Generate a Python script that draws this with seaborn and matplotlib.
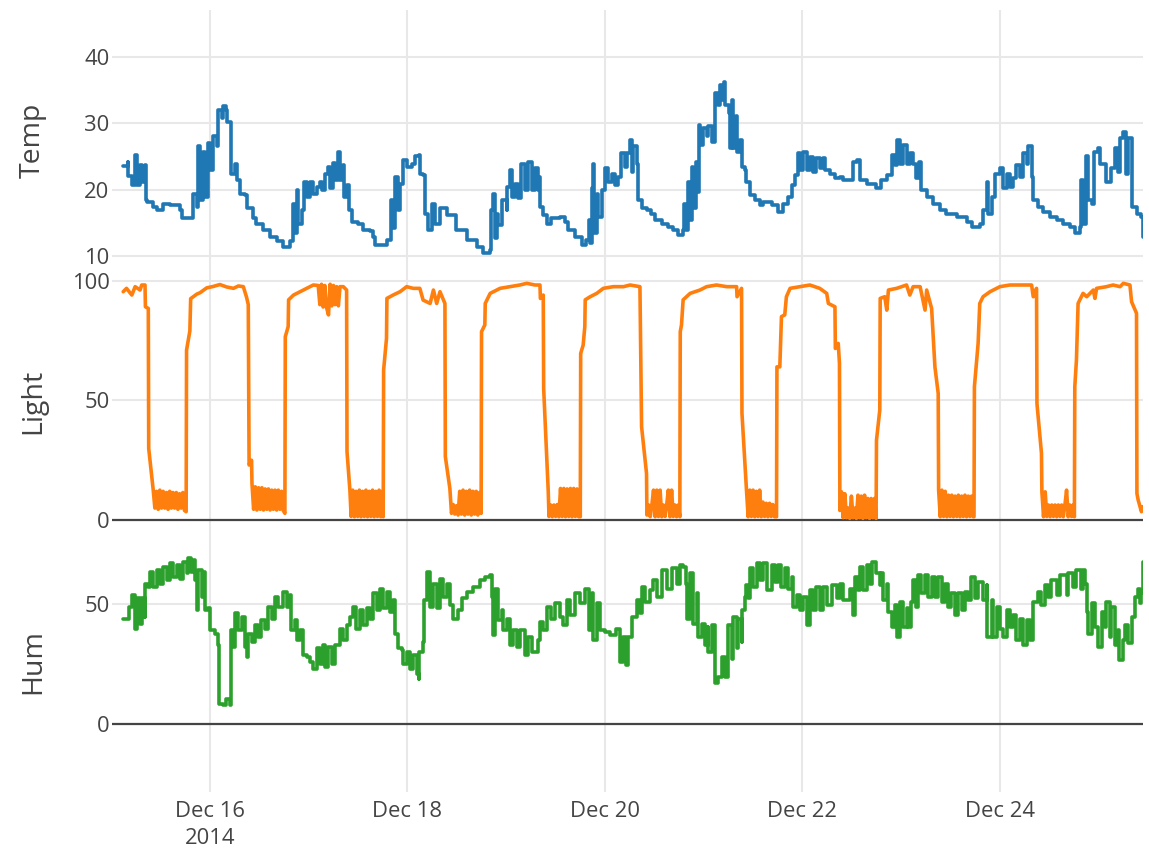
import pandas as pd
import seaborn as sns
import matplotlib.pyplot as plt
import matplotlib.dates as mdates
from matplotlib.ticker import FuncFormatter

# sensor readings, hours counted from 2014-12-15 00:00
start = pd.Timestamp('2014-12-15')

temp_hours = [
    2.9, 4.0, 4.0, 5.0, 5.8, 6.2, 7.0, 7.4, 8.2, 8.4,
    8.6, 10.2, 11.0, 12.6, 14.3, 16.7, 17.1, 19.1, 19.9, 20.8,
    21.2, 21.6, 22.4, 22.8, 23.6, 24.0, 24.8, 25.6, 26.0, 26.8,
    27.2, 28.0, 28.2, 29.1, 29.2, 30.1, 30.5, 31.3, 32.5, 32.9,
    34.5, 35.3, 36.9, 38.6, 40.2, 41.8, 43.4, 44.1, 44.6, 45.1,
    45.5, 46.3, 46.8, 47.5, 48.3, 49.1, 49.9, 50.7, 51.1, 51.9,
    52.7, 53.2, 54.0, 54.4, 55.0, 55.6, 56.4, 56.6, 57.2, 57.9,
    58.4, 60.0, 61.3, 62.9, 63.7, 64.1, 66.9, 67.7, 67.9, 68.5,
    69.0, 69.8, 70.2, 71.0, 71.8, 73.0, 73.8, 74.9, 75.0, 75.8,
    76.2, 77.1, 77.9, 78.7, 79.9, 81.5, 83.1, 83.9, 86.4, 88.8,
    90.4, 92.0, 92.2, 92.9, 93.3, 93.7, 94.1, 94.9, 96.1, 96.3,
    96.9, 97.3, 98.1, 98.9, 99.7, 100.6, 101.4, 102.2, 103.0, 103.8,
    104.0, 104.2, 105.0, 105.8, 107.0, 109.1, 110.3, 111.1, 112.7, 114.3,
    115.5, 116.0, 116.4, 116.8, 117.2, 117.3, 118.0, 118.4, 119.2, 120.0,
    120.8, 121.6, 122.4, 123.2, 124.0, 124.9, 125.3, 126.1, 126.5, 126.9,
    127.7, 128.1, 128.9, 130.1, 131.3, 132.2, 133.8, 135.4, 136.6, 137.8,
    139.0, 139.2, 139.8, 140.3, 140.7, 141.1, 141.5, 142.1, 142.4, 142.9,
    143.2, 143.9, 144.7, 145.1, 145.9, 146.7, 147.5, 148.0, 148.4, 149.0,
    149.2, 150.2, 150.3, 150.8, 151.2, 151.8, 152.2, 152.8, 153.2, 154.0,
    154.4, 155.2, 156.4, 157.7, 158.5, 160.5, 162.1, 163.3, 164.5, 165.4,
    166.2, 167.0, 167.4, 168.2, 169.0, 169.8, 170.6, 171.4, 172.2, 173.1,
    173.5, 174.7, 175.9, 177.1, 177.9, 180.4, 181.2, 182.0, 183.6, 186.0,
    187.2, 188.5, 189.7, 190.5, 191.0, 191.7, 192.5, 193.3, 194.1, 194.9,
    195.7, 196.4, 196.9, 198.2, 199.8, 201.4, 203.0, 205.5, 207.9, 209.1,
    211.1, 211.9, 212.8, 213.2, 214.0, 214.8, 216.0, 216.8, 217.6, 218.4,
    219.2, 220.0, 220.9, 221.7, 222.5, 222.9, 223.7, 224.1, 225.3, 226.5,
    228.1, 229.8, 231.4, 233.0, 234.2, 235.4, 235.8, 236.2, 236.9, 237.5,
    238.3, 238.8, 239.9, 240.3, 241.1, 241.9, 243.1, 243.9, 244.7, 245.2,
    246.0, 246.6, 247.2, 248.0, 248.2, 249.2, 250.2, 250.7,
]
temp_values = [
    23.6, 24.2, 22.0, 20.7, 25.2, 20.7, 23.7, 21.2, 23.7, 18.4,
    18.2, 17.4, 16.9, 17.8, 17.7, 16.9, 15.7, 15.7, 19.4, 17.4,
    26.5, 18.4, 25.7, 18.9, 27.0, 22.9, 28.0, 26.5, 32.0, 30.7,
    32.5, 32.0, 30.2, 30.0, 22.4, 23.9, 21.4, 19.4, 19.2, 17.2,
    15.7, 14.9, 13.9, 12.9, 12.2, 11.4, 12.2, 17.9, 13.4, 19.9,
    14.9, 16.9, 21.2, 18.9, 21.2, 19.4, 20.4, 21.2, 19.9, 22.4,
    23.4, 20.2, 24.0, 21.4, 25.7, 21.4, 23.7, 18.9, 20.7, 16.9,
    15.2, 14.9, 13.9, 13.7, 12.9, 11.7, 12.4, 12.4, 18.4, 14.2,
    21.9, 16.9, 20.9, 24.5, 23.4, 23.9, 25.0, 25.2, 22.4, 22.2,
    16.4, 13.9, 17.9, 14.9, 17.2, 16.2, 16.2, 13.9, 12.4, 11.4,
    10.4, 10.9, 16.9, 19.4, 12.7, 16.4, 14.7, 18.4, 16.9, 20.4,
    22.9, 18.9, 20.9, 18.7, 23.9, 19.9, 24.2, 19.9, 23.2, 19.9,
    21.9, 17.4, 16.2, 14.9, 15.7, 15.9, 15.2, 13.9, 12.9, 11.7,
    12.4, 15.4, 11.9, 20.2, 23.9, 13.4, 19.4, 15.9, 19.9, 23.2,
    21.2, 22.4, 20.7, 21.9, 25.5, 23.4, 25.5, 27.5, 22.7, 26.5,
    23.9, 18.4, 17.2, 16.9, 16.4, 15.4, 14.9, 14.4, 13.9, 13.2,
    13.9, 17.9, 13.9, 21.2, 15.4, 23.4, 17.2, 24.2, 19.7, 29.7,
    26.7, 29.2, 28.0, 29.5, 27.2, 34.5, 32.7, 35.7, 33.5, 36.2,
    32.7, 31.5, 26.2, 33.5, 26.2, 31.0, 25.7, 27.5, 23.4, 22.9,
    21.2, 19.2, 18.4, 17.7, 18.2, 17.7, 16.7, 17.9, 18.9, 20.7,
    22.2, 25.5, 22.9, 25.7, 22.9, 24.9, 22.7, 24.7, 23.2, 24.7,
    22.9, 22.4, 21.7, 21.9, 21.4, 24.2, 24.5, 21.4, 20.9, 20.2,
    21.4, 22.2, 25.2, 23.7, 27.5, 23.9, 26.7, 23.9, 25.5, 23.9,
    21.7, 24.2, 19.9, 18.9, 17.9, 16.9, 16.4, 15.9, 15.2, 14.4,
    14.9, 16.9, 21.2, 16.4, 18.9, 22.4, 23.2, 20.2, 22.4, 20.4,
    21.7, 23.7, 21.9, 25.5, 23.9, 26.5, 21.9, 18.4, 17.4, 16.7,
    15.9, 15.4, 14.9, 14.4, 13.4, 14.4, 21.4, 14.9, 25.0, 18.4,
    17.9, 25.7, 26.2, 23.9, 23.9, 21.2, 23.2, 26.2, 22.7, 27.7,
    28.7, 22.4, 27.7, 23.7, 17.4, 16.4, 15.9, 12.9,
]

light_hours = [
    2.9, 3.7, 5.0, 5.8, 7.0, 7.4, 8.2, 8.3, 9.0, 9.1,
    10.2, 10.6, 11.0, 11.4, 11.8, 12.2, 12.6, 13.0, 13.4, 13.8,
    14.2, 14.6, 15.0, 15.4, 15.8, 16.2, 16.6, 17.0, 17.4, 17.8,
    18.2, 18.3, 19.1, 19.3, 20.8, 21.6, 22.4, 23.2, 24.8, 26.4,
    28.0, 29.7, 30.9, 32.1, 32.9, 33.3, 33.5, 34.1, 34.2, 34.6,
    35.0, 35.4, 35.8, 36.2, 36.6, 37.0, 37.4, 37.8, 38.2, 38.6,
    39.0, 39.4, 39.8, 40.2, 40.6, 41.0, 41.4, 41.8, 42.2, 42.3,
    43.0, 43.1, 44.3, 45.9, 47.5, 49.1, 50.3, 50.7, 51.1, 51.5,
    51.9, 52.3, 52.8, 53.2, 53.6, 54.0, 54.4, 54.8, 55.2, 55.6,
    56.4, 57.2, 57.3, 58.0, 58.3, 58.7, 59.1, 59.5, 59.9, 60.3,
    60.7, 61.1, 61.5, 61.9, 62.3, 62.7, 63.1, 63.5, 63.9, 64.3,
    64.7, 65.1, 65.5, 65.9, 66.1, 66.2, 66.9, 67.0, 68.5, 70.2,
    71.8, 73.4, 75.0, 75.8, 77.5, 78.3, 79.1, 79.9, 81.1, 81.2,
    82.3, 82.7, 83.1, 83.5, 83.9, 84.3, 84.7, 85.1, 85.5, 85.9,
    86.3, 86.7, 87.1, 87.5, 87.9, 88.3, 88.7, 89.1, 89.5, 89.9,
    90.0, 90.8, 90.9, 92.1, 92.9, 94.5, 96.9, 99.3, 101.0, 103.0,
    104.2, 104.3, 105.0, 105.1, 105.8, 106.2, 106.4, 106.8, 107.2, 107.6,
    108.0, 108.4, 108.8, 109.2, 109.6, 110.0, 110.4, 110.8, 111.2, 111.6,
    112.0, 112.4, 112.8, 113.2, 113.6, 114.0, 114.1, 114.7, 115.1, 115.2,
    116.4, 118.0, 119.6, 122.0, 124.5, 126.1, 128.5, 128.9, 130.1, 130.2,
    130.6, 131.0, 131.4, 131.8, 132.2, 132.6, 133.0, 133.4, 133.8, 134.2,
    134.6, 135.0, 135.4, 135.8, 136.2, 136.6, 137.0, 137.4, 137.8, 138.2,
    138.3, 138.6, 139.0, 140.7, 143.1, 144.7, 147.1, 149.6, 152.0, 152.1,
    153.2, 153.3, 154.0, 154.4, 154.8, 155.2, 155.6, 156.0, 156.4, 156.8,
    157.2, 157.6, 158.0, 158.4, 158.8, 159.2, 159.6, 160.0, 160.4, 160.8,
    161.2, 161.7, 161.8, 162.5, 162.9, 163.7, 164.1, 165.0, 167.4, 169.8,
    172.2, 173.9, 174.3, 175.9, 176.0, 176.7, 177.0, 177.1, 177.5, 177.9,
    178.3, 178.7, 179.1, 179.5, 179.9, 180.3, 180.7, 181.1, 181.5, 181.9,
    182.3, 182.7, 183.1, 183.5, 183.9, 184.3, 184.7, 185.1, 185.5, 185.9,
    186.0, 186.8, 186.9, 188.0, 188.5, 188.9, 190.9, 193.3, 194.1, 194.9,
    196.6, 197.8, 198.2, 199.4, 200.2, 201.0, 201.1, 201.5, 201.9, 202.3,
    202.7, 203.1, 203.5, 203.9, 204.3, 204.7, 205.1, 205.5, 205.9, 206.3,
    206.7, 207.1, 207.5, 207.9, 208.3, 208.7, 209.1, 209.5, 209.7, 209.8,
    210.7, 211.1, 211.9, 213.6, 216.0, 218.4, 220.9, 223.7, 224.1, 224.9,
    225.0, 226.1, 226.2, 226.6, 227.0, 227.4, 227.8, 228.2, 228.6, 229.0,
    229.4, 229.8, 230.2, 230.6, 231.0, 231.4, 231.8, 232.2, 232.6, 233.0,
    233.4, 233.8, 234.1, 234.2, 234.6, 235.0, 236.2, 237.1, 238.7, 239.1,
    239.5, 241.9, 243.5, 245.2, 246.0, 247.6, 248.0, 249.2, 249.3, 249.6,
    250.4, 250.7,
]
light_values = [
    95.4, 96.8, 94.0, 97.5, 96.1, 98.2, 98.2, 89.1, 88.4, 29.9,
    12.5, 5.0, 12.0, 4.5, 12.5, 5.0, 12.0, 5.0, 11.5, 4.5,
    12.0, 5.0, 11.5, 5.0, 11.5, 4.5, 11.0, 5.0, 11.5, 4.0,
    3.5, 71.0, 79.0, 92.5, 94.4, 95.0, 96.0, 97.0, 97.6, 98.4,
    97.4, 96.8, 97.8, 97.5, 93.0, 90.0, 23.0, 25.0, 15.3, 4.5,
    13.9, 4.2, 13.5, 4.5, 13.5, 4.2, 13.0, 4.5, 13.0, 4.2,
    12.5, 4.5, 12.5, 4.2, 12.5, 4.5, 12.0, 4.0, 2.8, 76.6,
    80.8, 92.0, 94.0, 95.4, 96.8, 98.2, 98.0, 90.0, 98.5, 89.0,
    98.0, 89.0, 85.7, 98.5, 89.5, 98.0, 90.0, 97.5, 89.5, 97.5,
    97.5, 96.1, 28.6, 12.5, 1.5, 12.5, 1.4, 12.0, 1.5, 12.5,
    1.4, 12.0, 1.5, 12.5, 1.4, 12.0, 1.5, 12.5, 1.4, 12.0,
    1.5, 12.5, 1.4, 12.0, 1.4, 62.7, 75.9, 92.6, 94.0, 95.4,
    97.5, 96.8, 96.8, 91.9, 90.5, 96.1, 90.5, 95.4, 90.5, 26.5,
    13.2, 2.8, 6.5, 2.5, 6.0, 2.1, 12.0, 2.5, 12.5, 2.1,
    12.0, 2.5, 12.5, 2.1, 12.0, 2.5, 12.0, 2.1, 11.5, 2.8,
    78.7, 81.5, 90.5, 94.7, 95.4, 96.8, 97.5, 98.2, 98.9, 98.2,
    98.2, 92.6, 94.0, 55.0, 28.6, 12.5, 1.5, 6.3, 1.4, 6.3,
    1.5, 6.5, 1.4, 13.2, 1.5, 13.2, 1.4, 13.0, 1.5, 13.2,
    1.4, 13.2, 1.5, 13.0, 1.4, 1.4, 69.6, 73.1, 80.8, 92.0,
    93.3, 94.7, 96.8, 97.5, 97.5, 98.2, 97.5, 39.0, 19.5, 2.1,
    6.3, 1.4, 6.3, 12.5, 1.4, 12.5, 1.5, 12.5, 1.4, 6.3,
    1.5, 6.3, 12.5, 1.4, 12.5, 1.5, 6.3, 1.4, 6.3, 1.4,
    78.7, 81.5, 92.0, 94.7, 96.1, 97.5, 98.2, 97.5, 97.5, 93.3,
    96.8, 44.6, 23.7, 12.5, 1.4, 12.5, 1.5, 12.5, 1.4, 12.0,
    1.5, 12.5, 1.4, 7.5, 1.5, 7.0, 1.4, 7.0, 1.5, 6.5,
    1.4, 1.4, 64.0, 64.0, 85.0, 85.7, 93.3, 96.8, 97.5, 98.2,
    96.8, 94.7, 90.5, 89.1, 71.7, 73.8, 65.5, 4.0, 11.8, 1.0,
    11.0, 1.0, 5.0, 0.7, 10.0, 1.0, 5.0, 0.7, 10.4, 1.0,
    10.0, 0.7, 10.4, 1.0, 9.0, 0.7, 9.0, 1.0, 9.0, 0.7,
    33.4, 46.0, 92.6, 93.3, 87.7, 96.1, 96.8, 98.2, 94.0, 97.5,
    97.5, 87.7, 96.1, 88.4, 64.0, 52.9, 12.5, 1.4, 12.5, 1.5,
    12.0, 1.4, 10.4, 1.5, 10.4, 1.4, 10.0, 1.5, 10.4, 1.4,
    10.0, 1.5, 10.4, 1.4, 10.0, 1.5, 10.0, 1.4, 1.4, 55.7,
    73.8, 90.5, 93.3, 95.4, 97.5, 98.2, 98.2, 98.2, 93.3, 96.8,
    48.7, 27.9, 11.8, 1.4, 11.8, 1.5, 6.3, 1.4, 6.3, 1.5,
    6.3, 1.4, 6.3, 1.5, 6.3, 1.4, 6.3, 12.5, 1.4, 6.3,
    1.5, 6.3, 1.4, 55.7, 66.9, 90.5, 94.7, 93.3, 96.1, 92.6,
    96.8, 97.5, 98.2, 97.5, 98.9, 98.2, 91.2, 86.4, 11.1, 8.4,
    3.5, 5.6,
]

hum_hours = [
    2.9, 4.1, 4.2, 5.0, 5.8, 6.2, 7.0, 7.4, 8.2, 8.3,
    9.0, 9.4, 10.2, 11.0, 11.8, 12.6, 13.5, 14.3, 15.1, 15.9,
    16.7, 17.5, 18.3, 18.7, 19.5, 19.9, 20.3, 20.8, 21.2, 22.0,
    22.4, 22.8, 23.6, 24.0, 25.2, 26.0, 26.1, 27.2, 28.0, 28.9,
    29.0, 29.7, 30.1, 30.9, 31.7, 32.5, 32.9, 33.3, 34.1, 34.9,
    35.7, 36.5, 37.4, 38.2, 39.0, 39.8, 40.6, 41.8, 42.6, 43.4,
    43.8, 44.7, 45.1, 45.9, 46.7, 47.5, 48.3, 49.1, 49.9, 50.7,
    51.5, 51.9, 52.7, 53.6, 54.4, 55.6, 56.4, 57.2, 58.0, 58.8,
    59.6, 60.4, 61.3, 62.1, 62.9, 63.7, 64.5, 65.3, 66.1, 66.9,
    67.7, 68.5, 68.9, 69.8, 70.6, 71.0, 71.8, 72.6, 73.4, 74.2,
    74.9, 74.9, 75.8, 75.9, 76.7, 77.5, 78.3, 79.1, 79.9, 80.7,
    81.5, 82.3, 83.1, 84.3, 85.2, 86.4, 88.0, 89.6, 90.8, 92.0,
    92.5, 92.9, 93.3, 94.1, 94.9, 95.3, 96.1, 96.9, 97.7, 98.5,
    99.3, 100.6, 101.4, 102.2, 103.8, 104.2, 105.0, 105.8, 107.0, 107.9,
    109.1, 109.9, 110.7, 111.5, 112.7, 113.9, 115.1, 116.0, 116.8, 117.2,
    118.0, 118.8, 120.0, 121.2, 122.8, 123.6, 124.5, 125.1, 125.7, 126.5,
    127.7, 128.5, 128.9, 129.7, 130.9, 131.7, 132.6, 133.8, 135.0, 136.2,
    137.4, 138.2, 139.0, 139.8, 139.9, 140.7, 141.5, 142.3, 142.7, 143.5,
    144.3, 145.1, 145.1, 145.9, 146.7, 147.5, 148.4, 149.2, 150.0, 150.0,
    150.8, 151.2, 152.0, 152.4, 153.2, 153.3, 154.0, 154.4, 154.8, 155.2,
    156.0, 156.9, 157.7, 158.5, 159.3, 160.5, 161.3, 162.1, 162.9, 163.7,
    164.5, 165.4, 165.8, 166.6, 167.4, 168.2, 169.0, 169.8, 170.6, 171.4,
    172.2, 173.1, 173.9, 175.1, 176.3, 177.1, 177.9, 179.5, 180.4, 180.8,
    181.6, 182.0, 182.8, 183.6, 184.4, 185.0, 186.0, 186.8, 187.2, 187.6,
    188.5, 188.9, 189.7, 190.5, 191.0, 191.7, 192.5, 193.3, 193.7, 194.5,
    194.9, 195.7, 196.1, 196.9, 197.8, 198.6, 199.4, 200.2, 201.0, 201.8,
    202.6, 203.4, 204.2, 205.1, 205.9, 206.7, 207.5, 208.3, 208.9, 209.9,
    210.7, 211.9, 212.8, 212.8, 214.0, 214.4, 215.2, 216.0, 216.8, 217.6,
    218.4, 219.2, 220.0, 220.9, 221.7, 222.5, 223.3, 224.1, 224.1, 225.3,
    226.1, 226.9, 227.7, 228.5, 229.8, 230.6, 232.2, 232.6, 233.8, 234.6,
    235.8, 236.2, 236.6, 237.1, 237.5, 238.3, 239.1, 239.9, 240.7, 241.5,
    241.9, 242.7, 243.1, 243.9, 244.7, 245.0, 245.9, 246.4, 247.2, 248.0,
    248.8, 249.6, 250.0, 250.4, 250.7,
]
hum_values = [
    44.0, 44.0, 48.9, 53.8, 39.8, 52.4, 41.9, 52.4, 44.7, 58.6,
    57.2, 63.5, 57.2, 64.2, 58.6, 65.6, 60.0, 67.0, 61.4, 66.3,
    60.7, 67.7, 62.8, 69.1, 63.5, 68.4, 60.0, 47.5, 64.2, 53.1,
    63.5, 47.5, 48.2, 39.1, 37.7, 32.9, 8.5, 7.8, 10.6, 7.8,
    39.1, 32.2, 46.1, 39.1, 44.7, 32.2, 28.0, 37.7, 34.3, 41.2,
    36.4, 43.3, 39.8, 48.9, 44.0, 53.1, 48.9, 55.2, 48.9, 53.8,
    39.1, 43.3, 35.0, 39.1, 28.7, 28.0, 25.9, 23.1, 31.5, 25.2,
    32.9, 23.8, 32.2, 25.2, 32.9, 39.8, 35.0, 41.2, 44.7, 48.9,
    39.8, 47.5, 41.2, 48.2, 44.0, 54.5, 47.5, 56.5, 48.2, 55.2,
    46.8, 51.8, 37.7, 31.5, 30.8, 25.2, 30.1, 23.1, 28.7, 21.0,
    18.9, 30.1, 34.3, 51.8, 63.5, 48.9, 58.6, 48.2, 60.7, 53.1,
    58.6, 49.6, 44.0, 47.5, 52.4, 55.2, 57.2, 60.0, 61.4, 62.1,
    53.1, 37.0, 56.5, 43.3, 47.5, 39.1, 44.0, 32.9, 39.1, 32.2,
    39.1, 28.7, 36.4, 30.1, 35.0, 42.6, 39.1, 48.9, 44.0, 50.3,
    44.7, 41.2, 51.7, 45.4, 54.5, 50.3, 56.5, 39.1, 54.5, 35.0,
    50.3, 39.1, 38.4, 37.0, 39.8, 25.9, 36.4, 24.5, 36.4, 44.7,
    51.7, 46.1, 57.2, 51.0, 55.8, 60.0, 53.1, 64.2, 56.5, 65.0,
    58.6, 66.3, 65.6, 58.6, 44.0, 62.8, 41.9, 54.5, 36.4, 41.9,
    32.9, 40.5, 30.1, 41.2, 16.9, 19.6, 28.0, 19.6, 28.7, 41.2,
    27.3, 44.7, 31.5, 44.0, 34.3, 47.5, 53.1, 57.9, 52.4, 65.0,
    57.2, 67.0, 60.0, 67.0, 55.8, 66.3, 59.3, 66.3, 57.2, 65.0,
    56.5, 61.4, 48.9, 53.8, 47.5, 53.1, 41.2, 55.8, 47.5, 57.2,
    47.5, 57.2, 49.6, 57.9, 52.4, 58.6, 51.7, 56.5, 45.4, 61.4,
    55.8, 65.6, 55.8, 66.3, 58.6, 67.7, 62.8, 57.9, 62.8, 51.7,
    58.6, 46.8, 40.5, 49.6, 36.4, 51.0, 40.5, 48.2, 40.5, 51.0,
    60.0, 48.9, 62.1, 54.5, 62.1, 53.1, 61.4, 53.1, 61.4, 51.0,
    58.6, 48.9, 54.5, 45.4, 54.5, 47.5, 55.2, 51.7, 61.4, 52.4,
    59.3, 51.7, 57.9, 36.4, 51.7, 36.4, 48.9, 39.8, 36.4, 47.5,
    40.5, 45.4, 35.0, 44.0, 32.9, 43.3, 35.0, 43.3, 51.0, 55.2,
    49.6, 57.9, 53.1, 60.0, 53.8, 62.1, 53.8, 62.8, 57.2, 64.2,
    56.5, 64.2, 58.6, 46.8, 37.7, 50.3, 40.5, 32.2, 46.8, 40.5,
    51.0, 36.4, 48.9, 32.9, 39.1, 26.6, 35.0, 41.2, 33.6, 44.7,
    53.1, 56.5, 50.3, 54.5, 67.7,
]

# name, hours, values, colour, y range, y ticks, draw style
panels = [
    ('Temp', temp_hours, temp_values, '#1f77b4', (7.8, 47.0), [10, 20, 30, 40], 'steps-post'),
    ('Light', light_hours, light_values, '#ff7f0e', (-4.7, 104.2), [0, 50, 100], 'default'),
    ('Hum', hum_hours, hum_values, '#2ca02c', (-28.4, 80.4), [0, 50], 'steps-post'),
]

sns.set_theme(style='white')
plt.rcParams['font.family'] = ['Open Sans', 'DejaVu Sans']
text_color = '#444444'

fig = plt.figure(figsize=(11.49, 8.60), dpi=100)
left, width, height = 0.0972, 0.8973, 0.3031
bottoms = [0.6852, 0.3822, 0.0791]

axes = []
for i, (name, hours, values, color, ylim, yticks, style) in enumerate(panels):
    ax = fig.add_axes([left, bottoms[i], width, height], sharex=axes[0] if axes else None)
    axes.append(ax)
    assert len(hours) == len(values), name
    df = pd.DataFrame({
        'time': start + pd.to_timedelta(hours, unit='h'),
        'value': values,
    })
    sns.lineplot(data=df, x='time', y='value', ax=ax, color=color, linewidth=2.6,
                 estimator=None, sort=False, drawstyle=style, zorder=3)
    ax.set_ylim(*ylim)
    ax.set_yticks(yticks)
    ax.grid(True, color='#e8e8e8', linewidth=1.5)
    if ylim[0] < 0:
        ax.axhline(0, color=text_color, linewidth=1.6, zorder=2)
    for spine in ax.spines.values():
        spine.set_visible(False)
    ax.set_xlabel('')
    ax.set_ylabel(name, fontsize=20.5, color=text_color, va='baseline')
    ax.yaxis.set_label_coords(-0.0695, 0.5)
    ax.tick_params(axis='y', length=0, labelsize=15.8, labelcolor=text_color, pad=1.5)
    ax.tick_params(axis='x', length=0, labelsize=15.8, labelcolor=text_color, pad=6.5,
                   labelbottom=(i == len(panels) - 1))


def date_label(x, pos):
    d = mdates.num2date(x)
    label = d.strftime('%b %d')
    if d.day == 16:
        label += '\n2014'
    return label


axes[0].set_xlim(start + pd.Timedelta(hours=0.1), start + pd.Timedelta(hours=250.7))
axes[0].xaxis.set_major_locator(mdates.DayLocator(bymonthday=[16, 18, 20, 22, 24]))
axes[0].xaxis.set_major_formatter(FuncFormatter(date_label))
for lbl in axes[-1].get_xticklabels():
    lbl.set_linespacing(1.4)

fig.savefig('out.png', dpi=100)
